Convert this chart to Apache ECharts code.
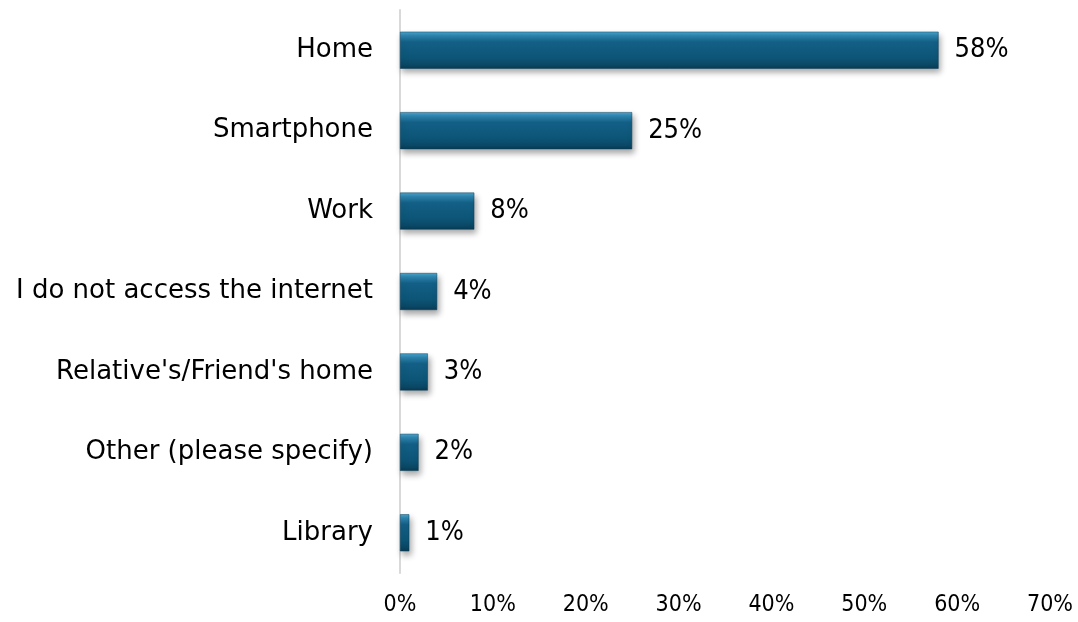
<!DOCTYPE html>
<html>
<head>
<meta charset="utf-8">
<script src="https://cdn.jsdelivr.net/npm/echarts@6/dist/echarts.min.js"></script>
<style>
  html, body { margin: 0; padding: 0; background: #ffffff; }
  #chart { width: 1078px; height: 622px; }
</style>
</head>
<body>
<div id="chart"></div>
<script>
// Where respondents access the internet (share of responses, %)
const categories = [
  'Home',
  'Smartphone',
  'Work',
  'I do not access the internet',
  "Relative's/Friend's home",
  'Other (please specify)',
  'Library'
];
const values = [58, 25, 8, 4, 3, 2, 1];
const tickValues = [0, 10, 20, 30, 40, 50, 60, 70];

const LABEL_FONT = 'DejaVu Sans';
const NUMBER_FONT = '"DejaVu Sans Condensed", "DejaVu Sans", sans-serif';

// Bevelled bar face: light top edge fading into deep teal-blue
const barFill = new echarts.graphic.LinearGradient(0, 0, 0, 1, [
  { offset: 0, color: '#4aa6cf' },
  { offset: 0.1, color: '#2e86b0' },
  { offset: 0.28, color: '#135f86' },
  { offset: 0.7, color: '#0d5577' },
  { offset: 0.9, color: '#0a4865' },
  { offset: 1, color: '#093a53' }
]);

const chart = echarts.init(document.getElementById('chart'), null, { renderer: 'canvas' });
chart.setOption({
  animation: false,
  backgroundColor: '#ffffff',
  grid: { left: 400, right: 28, top: 10, bottom: 49, containLabel: false },
  xAxis: {
    type: 'value',
    min: tickValues[0],
    max: tickValues[tickValues.length - 1],
    interval: 10,
    axisLine: { show: false },
    axisTick: { show: false },
    splitLine: { show: false },
    axisLabel: {
      margin: 21,
      color: '#000000',
      fontFamily: NUMBER_FONT,
      fontSize: 23,
      formatter: v => v + '%'
    }
  },
  yAxis: {
    type: 'category',
    inverse: true,
    data: categories,
    axisLine: { show: true, lineStyle: { color: '#d9d9d9', width: 2 } },
    axisTick: { show: false },
    axisLabel: {
      margin: 27,
      color: '#000000',
      fontFamily: LABEL_FONT,
      fontSize: 26
    }
  },
  series: [{
    type: 'bar',
    data: values,
    barWidth: 37,
    itemStyle: {
      color: barFill,
      borderColor: '#0a3d57',
      borderWidth: 0.5,
      shadowColor: 'rgba(0,0,0,0.35)',
      shadowBlur: 6,
      shadowOffsetX: 2,
      shadowOffsetY: 4
    },
    label: {
      show: true,
      position: 'right',
      distance: 16,
      color: '#000000',
      fontFamily: NUMBER_FONT,
      fontSize: 27,
      formatter: p => p.value + '%'
    }
  }]
});
</script>
</body>
</html>
